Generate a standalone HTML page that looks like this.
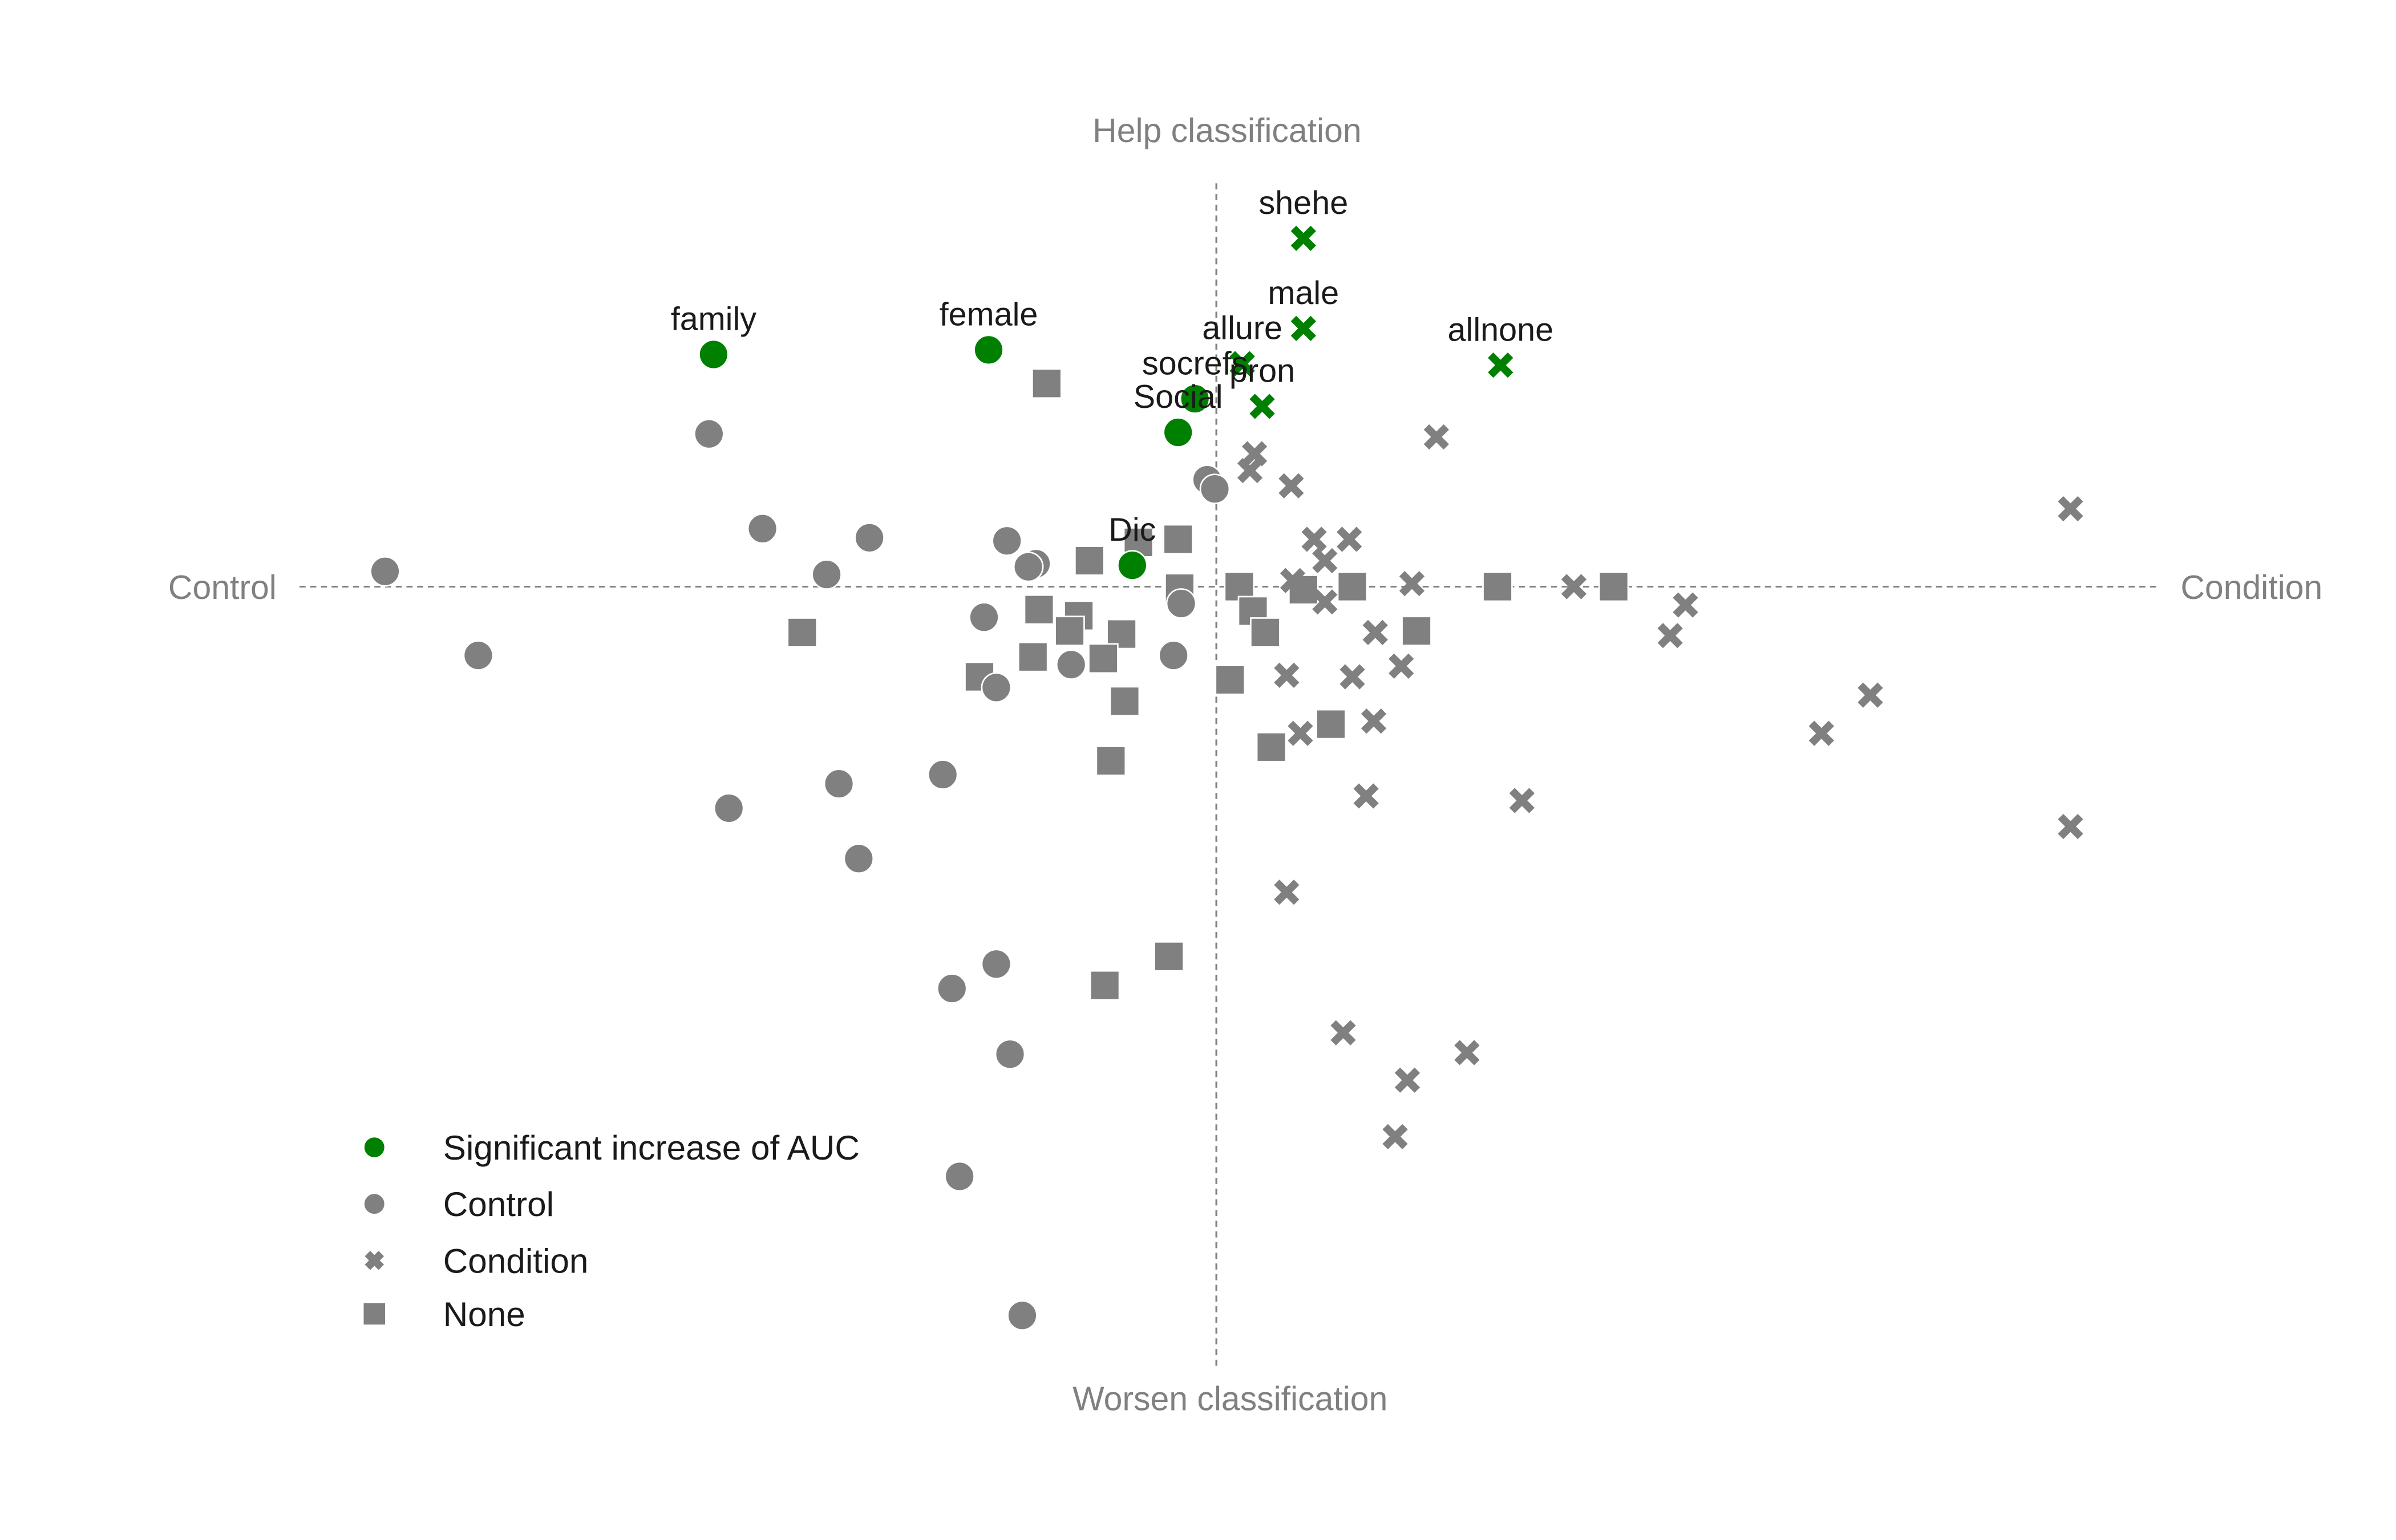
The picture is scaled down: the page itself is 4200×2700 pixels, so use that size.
<!DOCTYPE html>
<html><head><meta charset="utf-8"><style>
html,body{margin:0;padding:0;background:#fff}
svg{display:block;font-family:"Liberation Sans",sans-serif}
</style></head><body>
<svg id="chart" width="4200" height="2700" viewBox="0 0 1568 1008" xmlns="http://www.w3.org/2000/svg">
<g id="axes">
<line x1="796" y1="120" x2="796" y2="896" stroke="#808080" stroke-width="1.2" stroke-dasharray="4,3"/>
<line x1="196" y1="384" x2="1412" y2="384" stroke="#808080" stroke-width="1.2" stroke-dasharray="4,3"/>
<text x="803" y="93" font-size="22" fill="#808080" text-anchor="middle">Help classification</text>
<text x="805" y="923" font-size="22" fill="#808080" text-anchor="middle">Worsen classification</text>
<text x="181" y="392" font-size="22" fill="#808080" text-anchor="end">Control</text>
<text x="1427" y="392" font-size="22" fill="#808080" text-anchor="start">Condition</text>
</g>
<g id="marks"></g>
<g id="labels"></g>
<g id="legend"></g>
</svg>
<script>
// values: offsets from the origin (units of 100 display px)
const controlX=[-5.44,-4.83,-3.32,-2.97,-2.27,-2.55,-3.19,-2.47,-2.34,-1.79,-1.52,-1.37,-1.18,-1.23,-0.95,-1.44,-0.28,-0.23,-0.06,-0.01,-1.44,-1.73,-1.35,-1.68,-1.27];
const controlY=[0.10,-0.45,1.00,0.38,0.32,0.08,-1.45,-1.29,-1.78,-1.23,-0.20,0.30,0.15,0.13,-0.51,-0.66,-0.45,-0.11,0.70,0.64,-2.47,-2.63,-3.06,-3.86,-4.77];
const conditionX=[0.25,0.22,0.49,1.44,5.59,0.64,0.87,0.71,1.28,2.34,3.07,2.97,1.04,0.71,0.50,1.21,0.89,0.46,1.03,0.55,4.28,3.96,0.98,2.00,5.59,0.46,0.83,1.64,1.25,1.17];
const conditionY=[0.87,0.76,0.66,0.98,0.51,0.31,0.31,0.17,0.02,0.00,-0.12,-0.32,-0.30,-0.10,0.04,-0.52,-0.59,-0.58,-0.88,-0.96,-0.71,-0.96,-1.37,-1.40,-1.57,-2.00,-2.92,-3.05,-3.23,-3.60];
const noneX=[-1.11,-0.83,-0.51,-0.25,-0.24,0.15,0.57,0.89,1.84,2.60,0.24,0.32,1.31,-2.71,-1.16,-0.90,-0.96,-0.62,-1.20,-0.74,-1.55,-0.60,0.09,0.75,0.36,-0.69,-0.31,-0.73];
const noneY=[1.33,0.17,0.29,0.31,-0.01,0.00,-0.02,0.00,0.00,0.00,-0.16,-0.30,-0.29,-0.30,-0.15,-0.19,-0.29,-0.31,-0.46,-0.47,-0.59,-0.75,-0.61,-0.90,-1.05,-1.14,-2.42,-2.61];
const sigNames=["family","female","socrefs","Social","Dic","shehe","male","allure","pron","allnone"];
const sigType=["circle","circle","circle","circle","circle","x","x","x","x","x"];
const sigX=[-3.29,-1.49,-0.14,-0.25,-0.55,0.57,0.57,0.17,0.30,1.86];
const sigY=[1.52,1.55,1.23,1.01,0.14,2.28,1.69,1.46,1.18,1.45];

const NS="http://www.w3.org/2000/svg";
const X0=796,Y0=384,S=100;
function xs(v){return X0+v*S;}
function ys(v){return Y0-v*S;}
const marks=document.getElementById('marks');
function circle(p,cx,cy,col,r){
  const c=document.createElementNS(NS,'circle');
  c.setAttribute('cx',cx);c.setAttribute('cy',cy);c.setAttribute('r',r||9.5);
  c.setAttribute('fill',col);c.setAttribute('stroke','#fff');c.setAttribute('stroke-width','1');
  p.appendChild(c);return c;
}
function square(p,cx,cy,col,s){
  s=s||19;
  const c=document.createElementNS(NS,'rect');
  c.setAttribute('x',cx-s/2);c.setAttribute('y',cy-s/2);c.setAttribute('width',s);c.setAttribute('height',s);
  c.setAttribute('fill',col);c.setAttribute('stroke','#fff');c.setAttribute('stroke-width','1');
  p.appendChild(c);return c;
}
function cross(p,cx,cy,col,h){
  h=h||6.5;
  const g=document.createElementNS(NS,'path');
  g.setAttribute('d',`M${cx-h},${cy-h}L${cx+h},${cy+h}M${cx-h},${cy+h}L${cx+h},${cy-h}`);
  g.setAttribute('stroke',col);g.setAttribute('stroke-width','5');g.setAttribute('fill','none');
  p.appendChild(g);return g;
}
for(let i=0;i<noneX.length;i++){
  const el=square(marks,xs(noneX[i]),ys(noneY[i]),'#808080');
  
  
}
for(let i=0;i<controlX.length;i++){
  const el=circle(marks,xs(controlX[i]),ys(controlY[i]),'#808080');
  
  
}
for(let i=0;i<conditionX.length;i++){
  const el=cross(marks,xs(conditionX[i]),ys(conditionY[i]),'#808080');
  
  
}
const labels=document.getElementById('labels');
for(let i=0;i<sigX.length;i++){
  const cx=xs(sigX[i]),cy=ys(sigY[i]);
  const el=sigType[i]==='circle'?circle(marks,cx,cy,'#008000'):cross(marks,cx,cy,'#008000');
  
  
  const t=document.createElementNS(NS,'text');
  t.setAttribute('x',cx);t.setAttribute('y',cy-16);t.setAttribute('text-anchor','middle');
  t.setAttribute('font-size','21.5');t.setAttribute('fill','#1a1a1a');
  t.textContent=sigNames[i];
  
  
  labels.appendChild(t);
}
const legend=document.getElementById('legend');
const legItems=[["Significant increase of AUC","circle","#008000",751],["Control","circle","#808080",788],["Condition","x","#808080",825],["None","square","#808080",860]];
for(const it of legItems){
  let m;
  if(it[1]==='circle')m=circle(legend,245,it[3],it[2],7);
  else if(it[1]==='x')m=cross(legend,245,it[3],it[2],4.5);
  else m=square(legend,245,it[3],it[2],15);
  
  
  const t=document.createElementNS(NS,'text');
  t.setAttribute('x',290);t.setAttribute('y',it[3]+8);t.setAttribute('font-size','22.5');t.setAttribute('fill','#1a1a1a');
  t.textContent=it[0];
  
  
  legend.appendChild(t);
}
</script>
</body></html>
